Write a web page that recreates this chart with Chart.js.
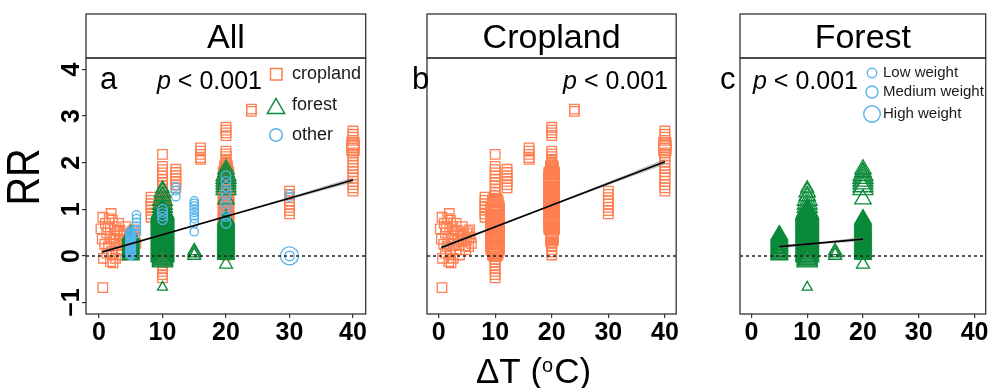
<!DOCTYPE html>
<html><head><meta charset="utf-8">
<script src="https://cdn.jsdelivr.net/npm/chart.js@4/dist/chart.umd.min.js"></script>
<style>
html,body{margin:0;padding:0;background:#fff;width:988px;height:388px;overflow:hidden;position:relative;}
canvas.p{position:absolute;top:0;}
</style></head><body>
<canvas id="ca" class="p" style="left:0px" width="380" height="388"></canvas>
<canvas id="cb" class="p" style="left:380px" width="310" height="388"></canvas>
<canvas id="cc" class="p" style="left:690px" width="310" height="388"></canvas>
<script>
// ---------- data ----------
const xTicks = [0, 10, 20, 30, 40];
const yTicks = [-1, 0, 1, 2, 3, 4];
const yTickLabels = ['−1', '0', '1', '2', '3', '4'];
const panelTitles = ['All', 'Cropland', 'Forest'];
const panelLetters = ['a', 'b', 'c'];
const pText = '< 0.001';
const seriesNames = ['cropland', 'forest', 'other'];
const weightNames = ['Low weight', 'Medium weight', 'High weight'];

// [ΔT, RR, weight class 1..5]
const cropland = [
  [0.6,0.83,2],[1.9,0.91,2],[2.1,0.77,2],[0.3,0.58,2],[0.5,0.36,2],[0.7,-0.05,2],[1.8,-0.12,2],[2.1,0.02,2],
  [3.7,0.02,2],[3.4,0.36,2],[3.1,0.7,2],[4.2,0.63,2],[5.3,0.41,2],[5.3,0.2,2],[1.2,0.49,2],[1.7,0.36,2],
  [2.7,0.27,2],[1.5,0.2,2],[2.9,0.53,2],[4.5,0.36,2],[4.8,0.13,2],[3.9,0.45,2],[2.4,0.63,2],[3.1,0.13,2],
  [1.2,0.06,2],[5.5,0.56,2],[5.8,0.27,2],[0.6,-0.68,2],[2.2,-0.15,2],[1.0,0.7,2],[2.5,0.45,2],[4.0,0.3,2],
  [1.4,0.62,2],[2.0,0.1,2],[3.3,0.55,2],[0.9,0.25,2],[5.0,0.48,2],[4.6,0.22,2],[2.6,-0.05,2],[1.6,0.8,2],
  [4.9,0.33,2],[5.2,0.52,2],[4.4,0.47,2],[5.6,0.39,2],[3.6,0.24,2],[2.3,0.38,2],
  [8.2,1.26,2],[8.2,1.19,2],[8.2,1.12,2],[8.2,1.05,2],[8.2,0.98,2],[8.2,0.9,2],[8.2,0.83,2],
  [10,2.18,2],[10,1.92,2],[10,1.85,2],[10,1.78,2],[10,1.71,2],[10,1.64,2],[10,1.57,2],[10,1.5,2],[10,1.43,2],
  [10,1.36,2],[10,1.3,2],
  [10,1.21,3],[10,1.185,3],[10,1.17,3],[10,1.145,4],[10,1.12,4],[10,1.105,4],[10,1.08,4],[10,1.06,4],
  [10,1.045,4],[10,1.02,4],[10,0.995,4],[10,0.98,5],[10,0.955,4],[10,0.94,5],[10,0.915,5],[10,0.9,5],
  [10,0.875,5],[10,0.86,5],[10,0.835,4],[10,0.82,5],[10,0.8,5],[10,0.775,5],[10,0.76,5],[10,0.735,5],
  [10,0.72,5],[10,0.695,5],[10,0.68,5],[10,0.655,5],[10,0.64,5],[10,0.62,5],[10,0.595,5],[10,0.58,5],
  [10,0.555,5],[10,0.54,5],[10,0.515,5],[10,0.5,5],[10,0.475,5],[10,0.46,5],[10,0.435,5],[10,0.42,5],
  [10,0.4,5],[10,0.375,5],[10,0.36,5],[10,0.335,5],[10,0.32,5],[10,0.295,5],[10,0.28,5],[10,0.255,5],
  [10,0.24,5],[10,0.215,5],[10,0.2,4],[10,0.18,4],[10,0.155,4],[10,0.14,4],[10,0.115,4],[10,0.1,4],
  [10,0.075,4],[10,0.06,3],[10,0.035,3],[10,0.02,3],
  [10,-0.08,2],[10,-0.14,2],[10,-0.21,2],[10,-0.27,2],[10,-0.33,2],[10,-0.4,2],[10,-0.47,2],
  [12.1,1.86,2],[12.1,1.79,2],[12.1,1.72,2],[12.1,1.66,2],[12.1,1.6,2],[12.1,1.53,2],[12.1,1.46,2],
  [16,2.32,2],[16,2.25,2],[16,2.18,2],[16,2.11,2],[16,2.07,2],
  [20,2.76,2],[20,2.7,2],[20,2.64,2],[20,2.58,2],
  [20,2.25,2],[20,2.19,2],[20,2.13,2],[20,2.07,2],[20,2.01,2],[20,1.96,2],
  [20,1.91,3],[20,1.885,3],[20,1.86,3],[20,1.84,3],[20,1.815,3],[20,1.79,3],[20,1.77,3],[20,1.745,4],
  [20,1.72,4],[20,1.7,4],[20,1.675,4],[20,1.65,4],[20,1.63,4],[20,1.605,4],[20,1.58,4],[20,1.56,4],
  [20,1.535,4],[20,1.51,4],[20,1.49,4],[20,1.465,4],[20,1.44,4],[20,1.42,4],[20,1.395,4],[20,1.37,4],
  [20,1.35,4],[20,1.325,4],[20,1.3,4],[20,1.28,4],[20,1.255,4],[20,1.23,4],[20,1.21,4],[20,1.185,4],
  [20,1.16,4],[20,1.14,4],[20,1.115,4],[20,1.09,4],[20,1.07,4],[20,1.045,4],[20,1.02,4],[20,1.0,4],
  [20,0.975,4],[20,0.95,4],[20,0.93,4],[20,0.905,4],[20,0.88,4],[20,0.86,4],[20,0.835,4],[20,0.81,4],
  [20,0.79,4],[20,0.765,4],[20,0.74,4],[20,0.72,4],[20,0.695,4],[20,0.67,4],[20,0.65,4],[20,0.625,4],
  [20,0.6,3],[20,0.58,3],[20,0.555,3],[20,0.53,3],[20,0.51,3],[20,0.485,3],[20,0.46,3],[20,0.44,3],
  [20,0.415,3],[20,0.39,3],[20,0.37,3],[20,0.345,3],
  [20,0.27,2],[20,0.2,2],[20,0.14,2],[20,0.08,2],[20,0.02,2],
  [24,3.15,2],[24,3.1,2],
  [30,1.39,2],[30,1.32,2],[30,1.25,2],[30,1.18,2],[30,1.11,2],[30,1.04,2],[30,0.97,2],[30,0.9,2],
  [40,2.68,2],[40,2.61,2],[40,2.55,2],[40,2.48,2],[40,2.41,3],[40,2.35,3],[40,2.28,3],[40,2.21,2],[40,2.15,2],
  [40,2.08,2],[40,2.01,2],[40,1.94,2],[40,1.88,2],[40,1.81,2],[40,1.74,2],[40,1.67,2],[40,1.6,2],[40,1.53,2],
  [40,1.46,2],[40,1.39,2]
];

const forest = [
  [5,0.45,3],[5,0.43,3],[5,0.41,3],[5,0.385,3],[5,0.365,3],[5,0.345,3],[5,0.32,3],[5,0.3,3],[5,0.28,3],
  [5,0.255,3],[5,0.235,3],[5,0.215,3],[5,0.19,3],[5,0.17,3],[5,0.15,3],[5,0.125,3],[5,0.105,3],[5,0.085,3],
  [5,0.06,3],[5,0.04,3],[5,0.02,3],
  [10,1.45,2],[10,1.37,3],[10,1.29,3],[10,1.21,4],[10,1.13,4],[10,1.06,4],
  [10,0.99,4],[10,0.97,4],[10,0.95,5],[10,0.93,5],[10,0.905,5],[10,0.885,5],[10,0.865,5],[10,0.845,5],
  [10,0.82,5],[10,0.8,5],[10,0.78,5],[10,0.76,5],[10,0.735,5],[10,0.715,5],[10,0.695,5],[10,0.675,5],
  [10,0.65,5],[10,0.63,5],[10,0.61,5],[10,0.59,5],[10,0.565,5],[10,0.545,5],[10,0.525,5],[10,0.505,5],
  [10,0.48,5],[10,0.46,5],[10,0.44,5],[10,0.42,5],[10,0.395,5],[10,0.375,5],[10,0.355,5],[10,0.335,5],
  [10,0.31,5],[10,0.29,5],[10,0.27,5],[10,0.25,5],[10,0.225,5],[10,0.205,5],[10,0.185,5],[10,0.165,5],
  [10,0.14,5],[10,0.12,5],[10,0.1,5],[10,0.08,5],[10,0.055,5],[10,0.035,5],[10,0.015,5],[10,-0.005,4],
  [10,-0.03,4],[10,-0.05,4],[10,-0.07,4],[10,-0.09,4],[10,-0.11,4],[10,-0.67,1],
  [15,0.11,2],[15,0.06,2],[15,0.01,2],
  [20,1.86,3],[20,1.8,3],[20,1.74,4],[20,1.68,4],[20,1.62,4],[20,1.56,4],[20,1.5,4],[20,1.44,4],[20,1.22,3],
  [20,0.79,3],[20,0.77,3],[20,0.75,3],[20,0.73,3],[20,0.705,3],[20,0.685,3],[20,0.665,3],[20,0.645,3],
  [20,0.62,3],[20,0.6,3],[20,0.58,3],[20,0.56,3],[20,0.535,3],[20,0.515,3],[20,0.495,3],[20,0.475,3],
  [20,0.45,3],[20,0.43,3],[20,0.41,3],[20,0.39,3],[20,0.365,3],[20,0.345,3],[20,0.325,3],[20,0.305,3],
  [20,0.28,3],[20,0.26,3],[20,0.24,3],[20,0.22,3],[20,0.195,3],[20,0.175,3],[20,0.155,3],[20,0.135,3],
  [20,0.11,3],[20,0.09,3],[20,0.07,3],[20,0.05,3],[20,0.03,3],
  [20,-0.18,2]
];

const other = [
  [5,0.52,2],[5,0.5,2],[5,0.48,2],[5,0.455,2],[5,0.435,2],[5,0.415,2],[5,0.39,2],[5,0.37,2],[5,0.35,2],
  [5,0.325,2],[5,0.305,2],[5,0.285,2],[5,0.26,2],[5,0.24,2],[5,0.22,2],[5,0.195,2],[5,0.175,2],[5,0.155,2],
  [5,0.13,2],[5,0.11,2],[5,0.09,2],[5,0.065,2],[5,0.045,2],[5,0.025,2],
  [5.9,0.88,1],[5.9,0.8,1],[5.9,0.72,1],[5.9,0.64,1],[5.9,0.56,1],[5.9,0.48,1],
  [10,1.0,2],[10,0.93,2],[10,0.86,2],[10,0.78,2],
  [12.1,1.48,1],[12.1,1.4,1],[12.1,1.27,1],
  [15,1.18,1],[15,1.13,1],[15,1.07,1],[15,1.0,1],[15,0.93,1],[15,0.86,1],[15,0.8,1],[15,0.7,1],[15,0.52,1],
  [20,1.72,2],[20,1.6,2],[20,1.48,2],[20,1.36,2],[20,1.25,2],[20,1.12,2],[20,1.0,2],[20,0.85,2],[20,0.7,2],
  [30,0,5],[30,0,2],[30,1.32,1],[30,1.26,1]
];

// fitted lines and confidence bands
const fitAllDT = [0.5, 40],  fitAllRR = [0.085, 1.63];
const bandAllDT = [0.5, 10, 20, 30, 40];
const bandAllLo = [0.05, 0.44, 0.83, 1.21, 1.575];
const bandAllHi = [0.12, 0.475, 0.865, 1.265, 1.685];
const fitCropDT = [0.5, 40], fitCropRR = [0.18, 2.02];
const bandCropDT = [0.5, 10, 20, 30, 40];
const bandCropLo = [0.14, 0.6, 1.07, 1.52, 1.96];
const bandCropHi = [0.22, 0.645, 1.11, 1.59, 2.08];
const fitForDT = [5, 20], fitForRR = [0.2, 0.36];
const bandForDT = [5, 12.5, 20];
const bandForLo = [0.16, 0.26, 0.31];
const bandForHi = [0.24, 0.3, 0.41];

// ---------- styles ----------
const FONT = '"Liberation Sans", Arial, Helvetica, sans-serif';
const COL = { cropland: '#FF7F50', forest: '#0B8A3A', other: '#56B4E9' };
const R_RECT = [0, 4.5, 6.7, 8.5, 10.5, 12.5];
const R_TRI  = [0, 5.8, 7.5, 9.5, 11.5, 13];
const R_CIRC = [0, 4.2, 4.8, 6, 7.5, 9];

function pointSet(rows, label, color, style, radii, order) {
  return {
    label, order,
    data: rows.map(r => ({ x: r[0], y: r[1] })),
    pointStyle: style,
    pointRadius: c => radii[(rows[c.dataIndex] || [0,0,2])[2]],
    pointHoverRadius: c => radii[(rows[c.dataIndex] || [0,0,2])[2]],
    pointBackgroundColor: 'rgba(0,0,0,0)',
    pointBorderColor: color,
    pointBorderWidth: 1.3,
    showLine: false
  };
}
function lineSets(dt, rr, bdt, lo, hi) {
  return [
    { type: 'line', order: 1, data: bdt.map((x, i) => ({ x, y: lo[i] })), borderWidth: 0, pointRadius: 0, fill: false, borderColor: 'rgba(0,0,0,0)' },
    { type: 'line', order: 1, data: bdt.map((x, i) => ({ x, y: hi[i] })), borderWidth: 0, pointRadius: 0, fill: '-1', borderColor: 'rgba(0,0,0,0)', backgroundColor: 'rgba(120,120,120,0.45)' },
    { type: 'line', order: 0, data: dt.map((x, i) => ({ x, y: rr[i] })), borderColor: '#000', borderWidth: 1.6, pointRadius: 0, fill: false }
  ];
}

function drawText(ctx, txt, x, y, font, align, base, color) {
  ctx.font = font; ctx.textAlign = align || 'left'; ctx.textBaseline = base || 'alphabetic';
  ctx.fillStyle = color || '#000'; ctx.fillText(txt, x, y);
}
function drawTri(ctx, cx, cy, r) {
  ctx.beginPath();
  ctx.moveTo(cx, cy - r);
  ctx.lineTo(cx + r * 0.866, cy + r * 0.5);
  ctx.lineTo(cx - r * 0.866, cy + r * 0.5);
  ctx.closePath(); ctx.stroke();
}

function decoPlugin(info) {
  return {
    id: 'deco' + info.idx,
    afterDatasetsDraw(chart) {
      const ctx = chart.ctx, a = chart.chartArea, y0 = chart.scales.y.getPixelForValue(0);
      ctx.save();
      ctx.strokeStyle = '#222'; ctx.lineWidth = 1.4; ctx.setLineDash([3, 3]);
      ctx.beginPath(); ctx.moveTo(a.left, y0); ctx.lineTo(a.right, y0); ctx.stroke();
      ctx.restore();
    },
    afterDraw(chart) {
      const ctx = chart.ctx, a = chart.chartArea, off = info.off;
      ctx.save();
      ctx.strokeStyle = '#333'; ctx.lineWidth = 1.3;
      ctx.strokeRect(a.left, a.top, a.right - a.left, a.bottom - a.top);
      ctx.strokeRect(a.left, 14, a.right - a.left, a.top - 14);
      drawText(ctx, panelTitles[info.idx], (a.left + a.right) / 2, 47.5, '34px ' + FONT, 'center');
      drawText(ctx, panelLetters[info.idx], info.letterX - off, 89, '31px ' + FONT);
      ctx.font = '25px ' + FONT;
      const wRest = ctx.measureText(' ' + pText).width;
      ctx.font = 'italic 25px ' + FONT;
      const wP = ctx.measureText('p').width;
      let px = info.pX - off;
      if (info.pAlign === 'right') px = px - wRest - wP;
      drawText(ctx, 'p', px, 88.5, 'italic 25px ' + FONT);
      drawText(ctx, ' ' + pText, px + wP, 88.5, '25px ' + FONT);

      if (info.idx === 0) {
        const ys = chart.scales.y;
        yTicks.forEach((v, i) => {
          const yy = ys.getPixelForValue(v);
          ctx.save(); ctx.translate(72.5, yy); ctx.rotate(-Math.PI / 2);
          drawText(ctx, yTickLabels[i], 0, 0, 'bold 25px ' + FONT, 'center', 'middle');
          ctx.restore();
        });
        ctx.save(); ctx.translate(26.5, 177); ctx.rotate(-Math.PI / 2); ctx.scale(0.86, 1);
        drawText(ctx, 'RR', 0, 0, '46px ' + FONT, 'center', 'middle');
        ctx.restore();
        ctx.lineWidth = 1.5;
        ctx.strokeStyle = COL.cropland; ctx.strokeRect(270.5, 68.5, 11.5, 11.5);
        ctx.strokeStyle = COL.forest; drawTri(ctx, 276, 108.5, 10);
        ctx.strokeStyle = COL.other; ctx.beginPath(); ctx.arc(276, 135, 6.3, 0, Math.PI * 2); ctx.stroke();
        drawText(ctx, seriesNames[0], 292, 74, '18px ' + FONT, 'left', 'middle', '#1a1a1a');
        drawText(ctx, seriesNames[1], 292, 105, '18px ' + FONT, 'left', 'middle', '#1a1a1a');
        drawText(ctx, seriesNames[2], 292, 135, '18px ' + FONT, 'left', 'middle', '#1a1a1a');
      }
      if (info.idx === 1) {
        // x-axis title  ΔT (°C) with superscript o
        const big = '35px ' + FONT, sm = '20px ' + FONT, b = 383;
        ctx.font = big; const w1 = ctx.measureText('ΔT (').width, w3 = ctx.measureText('C)').width;
        ctx.font = sm; const w2 = ctx.measureText('o').width + 1;
        let x = 533.5 - off - (w1 + w2 + w3) / 2;
        drawText(ctx, 'ΔT (', x, b, big); x += w1;
        drawText(ctx, 'o', x, b - 11.5, sm); x += w2;
        drawText(ctx, 'C)', x, b, big);
      }
      if (info.idx === 2) {
        ctx.lineWidth = 1.4; ctx.strokeStyle = COL.other;
        const cy = [73, 92, 114], cr = [4.7, 6, 8.3];
        for (let i = 0; i < 3; i++) {
          ctx.beginPath(); ctx.arc(872 - off, cy[i], cr[i], 0, Math.PI * 2); ctx.stroke();
          drawText(ctx, weightNames[i], 883 - off, cy[i], '15px ' + FONT, 'left', 'middle', '#1a1a1a');
        }
      }
      ctx.restore();
    }
  };
}

function scalesFor(showY) {
  const grid = { drawOnChartArea: false, drawTicks: true, tickLength: 4, color: '#333', lineWidth: 1.2 };
  return {
    x: {
      type: 'linear', min: -2.05, max: 42,
      afterBuildTicks: s => { s.ticks = xTicks.map(v => ({ value: v })); },
      afterFit: s => { s.height = 30; },
      grid, border: { display: false },
      ticks: { font: { family: FONT, size: 25, weight: 'bold' }, color: '#000', padding: 0, maxRotation: 0, minRotation: 0, autoSkip: false }
    },
    y: {
      type: 'linear', min: -1.245, max: 4.245, display: showY,
      afterBuildTicks: s => { s.ticks = yTicks.map(v => ({ value: v })); },
      afterFit: s => { s.width = 30; },
      grid, border: { display: false },
      ticks: { display: false }
    }
  };
}

function make(id, datasets, info, padding, showY) {
  return new Chart(document.getElementById(id), {
    type: 'scatter',
    data: { datasets },
    options: {
      responsive: false, animation: false, events: [],
      layout: { padding },
      scales: scalesFor(showY),
      plugins: { legend: { display: false }, tooltip: { enabled: false } }
    },
    plugins: [decoPlugin(info)]
  });
}

make('ca', [
  ...lineSets(fitAllDT, fitAllRR, bandAllDT, bandAllLo, bandAllHi),
  pointSet(other, 'other', COL.other, 'circle', R_CIRC, 2),
  pointSet(forest, 'forest', COL.forest, 'triangle', R_TRI, 3),
  pointSet(cropland, 'cropland', COL.cropland, 'rect', R_RECT, 4)
], { idx: 0, off: 0, letterX: 100, pX: 157, pAlign: 'left' },
  { left: 56, right: 13, top: 58, bottom: 44 }, true);

make('cb', [
  ...lineSets(fitCropDT, fitCropRR, bandCropDT, bandCropLo, bandCropHi),
  pointSet(cropland, 'cropland', COL.cropland, 'rect', R_RECT, 4)
], { idx: 1, off: 380, letterX: 412, pX: 668, pAlign: 'right' },
  { left: 17, right: 11, top: 58, bottom: 44 }, false);

make('cc', [
  ...lineSets(fitForDT, fitForRR, bandForDT, bandForLo, bandForHi),
  pointSet(forest, 'forest', COL.forest, 'triangle', R_TRI, 3)
], { idx: 2, off: 690, letterX: 720, pX: 753, pAlign: 'left' },
  { left: 20, right: 9, top: 58, bottom: 44 }, false);
</script>
</body></html>
